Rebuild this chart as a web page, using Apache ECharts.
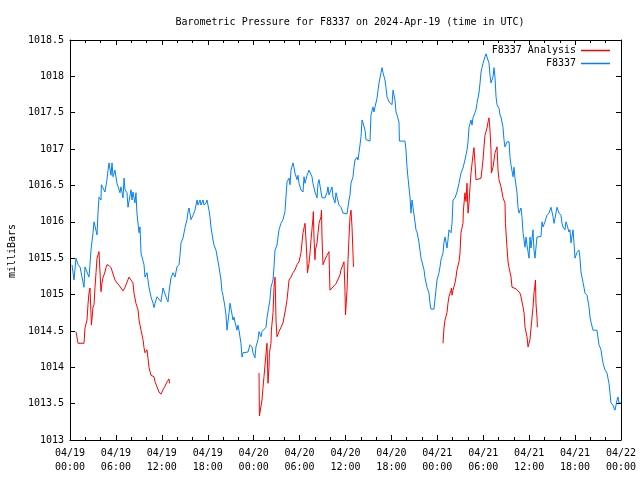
<!DOCTYPE html>
<html>
<head>
<meta charset="utf-8">
<script src="https://cdn.jsdelivr.net/npm/echarts@6/dist/echarts.min.js"></script>
<style>html,body{margin:0;padding:0;background:#fff}#c{width:640px;height:480px}</style>
</head>
<body>
<div id="c"></div>
<script>
// Hours since 2024-04-19 00:00 UTC
const xTickLabels = ['04/19\n00:00','04/19\n06:00','04/19\n12:00','04/19\n18:00','04/20\n00:00','04/20\n06:00','04/20\n12:00','04/20\n18:00','04/21\n00:00','04/21\n06:00','04/21\n12:00','04/21\n18:00','04/22\n00:00'];

const blueTime = [0.26,0.52,0.78,1.05,1.31,1.57,1.83,1.96,2.22,2.48,2.61,2.74,3.01,3.14,3.40,3.53,3.66,3.79,4.05,4.10,4.31,4.57,4.83,4.97,5.10,5.36,5.49,5.62,5.88,6.14,6.40,6.53,6.66,6.93,7.06,7.19,7.45,7.58,7.84,7.97,8.10,8.23,8.49,8.62,8.75,9.02,9.15,9.28,9.67,9.80,10.06,10.19,10.32,10.58,10.85,10.98,11.11,11.37,11.63,11.89,12.15,12.41,12.68,12.81,12.94,13.20,13.46,13.72,13.98,14.24,14.37,14.51,14.77,15.03,15.29,15.42,15.55,15.81,16.07,16.20,16.33,16.60,16.73,16.99,17.12,17.38,17.51,17.77,17.90,18.16,18.29,18.42,18.69,18.82,19.08,19.34,19.47,19.73,19.86,19.99,20.25,20.38,20.52,20.78,20.91,21.04,21.30,21.43,21.56,21.82,21.95,22.08,22.34,22.48,22.61,22.87,23.26,23.52,23.78,23.91,24.17,24.30,24.57,24.70,24.96,25.09,25.22,25.61,25.74,26.00,26.13,26.26,26.53,26.66,26.79,27.05,27.18,27.31,27.57,27.70,27.83,28.09,28.22,28.36,28.62,28.75,28.88,29.14,29.27,29.40,29.66,29.79,29.92,30.18,30.45,30.58,30.71,30.97,31.23,31.49,31.62,31.75,32.01,32.28,32.41,32.54,32.80,32.93,33.32,33.58,33.71,33.84,34.10,34.24,34.37,34.63,34.76,34.89,35.15,35.41,35.67,36.20,36.46,36.59,36.72,36.98,37.11,37.24,37.50,37.63,37.76,38.03,38.16,38.29,38.55,38.68,39.20,39.33,39.59,39.72,39.86,40.12,40.25,40.38,40.64,40.77,40.90,41.16,41.29,41.42,41.68,42.08,42.21,42.47,42.60,42.73,42.99,43.05,43.77,43.90,44.04,44.17,44.30,44.43,44.56,44.69,44.82,45.08,45.21,45.34,45.60,45.73,45.87,46.13,46.26,46.39,46.65,46.78,46.91,47.04,47.17,47.56,47.69,47.82,47.96,48.22,48.35,48.48,48.74,48.87,49.00,49.26,49.39,49.52,49.79,49.92,50.05,50.31,50.57,50.83,51.09,51.35,51.61,51.88,52.01,52.14,52.40,52.53,52.66,52.92,53.05,53.18,53.44,53.58,53.71,53.84,53.97,54.23,54.36,54.49,54.75,54.88,55.01,55.27,55.41,55.54,55.67,55.80,56.06,56.19,56.32,56.58,56.71,56.84,57.10,57.37,57.50,57.63,57.89,58.02,58.15,58.41,58.54,58.67,58.93,59.06,59.20,59.46,59.59,59.72,59.98,60.11,60.24,60.50,60.63,60.76,61.02,61.55,61.68,61.81,62.07,62.20,62.33,62.59,62.72,62.85,63.12,63.25,63.38,63.64,63.77,63.90,64.16,64.29,64.42,64.68,64.81,64.94,65.20,65.33,65.47,65.73,65.86,65.99,66.25,66.51,66.64,66.77,67.03,67.16,67.29,67.56,67.82,67.95,68.08,68.34,68.86,69.12,69.39,69.52,69.65,69.91,70.17,70.43,70.56,70.69,70.95,71.08,71.22,71.48,71.61,71.74,72.00];
const blueValue = [1015.41,1015.20,1015.50,1015.41,1015.38,1015.24,1015.10,1015.38,1015.38,1015.24,1015.41,1015.61,1015.85,1016.00,1016.00,1015.82,1016.12,1016.34,1016.30,1016.51,1016.51,1016.41,1016.58,1016.71,1016.81,1016.64,1016.81,1016.62,1016.71,1016.53,1016.51,1016.40,1016.48,1016.33,1016.60,1016.44,1016.40,1016.20,1016.20,1016.44,1016.30,1016.41,1016.26,1016.40,1016.12,1015.85,1015.93,1015.57,1015.41,1015.24,1015.30,1015.20,1015.10,1014.97,1014.88,1014.82,1014.88,1014.97,1014.99,1014.90,1015.09,1015.09,1014.93,1014.90,1015.04,1015.23,1015.30,1015.24,1015.38,1015.41,1015.54,1015.71,1015.78,1015.92,1016.03,1016.14,1016.19,1016.03,1016.09,1016.09,1016.16,1016.30,1016.23,1016.30,1016.23,1016.30,1016.23,1016.26,1016.30,1016.16,1016.07,1015.93,1015.75,1015.68,1015.61,1015.59,1015.38,1015.20,1015.04,1014.99,1014.83,1014.72,1014.51,1014.75,1014.88,1014.90,1014.65,1014.69,1014.62,1014.51,1014.58,1014.51,1014.33,1014.14,1014.20,1014.20,1014.21,1014.31,1014.28,1014.20,1014.13,1014.28,1014.38,1014.49,1014.42,1014.49,1014.51,1014.55,1014.68,1014.69,1014.93,1015.10,1015.20,1015.38,1015.61,1015.68,1015.79,1015.89,1015.98,1016.00,1016.03,1016.14,1016.34,1016.55,1016.60,1016.51,1016.71,1016.81,1016.75,1016.67,1016.58,1016.64,1016.53,1016.44,1016.41,1016.62,1016.53,1016.64,1016.71,1016.71,1016.62,1016.53,1016.41,1016.33,1016.53,1016.58,1016.58,1016.33,1016.33,1016.40,1016.48,1016.37,1016.44,1016.48,1016.34,1016.26,1016.40,1016.34,1016.23,1016.20,1016.12,1016.11,1016.30,1016.37,1016.53,1016.62,1016.75,1016.85,1016.89,1016.85,1016.95,1017.17,1017.40,1017.36,1017.26,1017.13,1017.11,1017.47,1017.58,1017.51,1017.58,1017.70,1017.81,1017.91,1018.05,1018.12,1018.05,1017.95,1017.85,1017.72,1017.65,1017.61,1017.81,1017.67,1017.51,1017.47,1017.37,1017.11,1017.11,1016.99,1016.75,1016.60,1016.60,1016.34,1016.12,1016.30,1016.20,1016.00,1015.89,1015.86,1015.72,1015.61,1015.50,1015.48,1015.34,1015.23,1015.10,1015.09,1015.02,1014.88,1014.80,1014.80,1014.93,1015.06,1015.20,1015.30,1015.38,1015.48,1015.57,1015.72,1015.79,1015.64,1015.75,1015.89,1015.85,1015.98,1016.30,1016.33,1016.41,1016.53,1016.67,1016.74,1016.85,1016.99,1017.10,1017.30,1017.40,1017.33,1017.43,1017.50,1017.54,1017.63,1017.77,1017.91,1018.06,1018.12,1018.18,1018.27,1018.31,1018.29,1018.18,1018.02,1017.91,1017.99,1018.12,1017.98,1017.72,1017.61,1017.56,1017.47,1017.44,1017.30,1017.13,1017.03,1017.10,1017.10,1016.88,1016.78,1016.62,1016.75,1016.60,1016.40,1016.20,1016.12,1016.19,1016.07,1015.85,1015.65,1015.79,1015.68,1015.50,1015.79,1015.64,1015.89,1015.61,1015.50,1015.79,1015.80,1016.00,1015.93,1016.00,1016.05,1016.09,1016.12,1016.16,1016.20,1016.07,1015.98,1016.05,1016.20,1016.16,1016.12,1016.09,1015.98,1015.93,1015.89,1016.00,1015.96,1015.86,1015.89,1015.71,1015.89,1015.71,1015.50,1015.58,1015.61,1015.50,1015.31,1015.17,1015.10,1015.02,1014.99,1014.83,1014.69,1014.62,1014.51,1014.51,1014.31,1014.24,1014.14,1014.06,1013.96,1013.92,1013.78,1013.65,1013.51,1013.48,1013.44,1013.41,1013.55,1013.59,1013.51,1013.51];

// null marks a gap between analysis runs
const redTime = [0.78,1.05,1.31,1.83,1.96,2.22,2.35,2.48,2.61,2.74,2.80,3.01,3.14,3.27,3.40,3.53,3.79,3.92,4.05,4.18,4.31,4.57,4.70,4.83,5.10,5.36,5.62,5.88,6.14,6.40,6.66,6.93,7.19,7.45,7.71,7.97,8.23,8.36,8.62,8.89,9.02,9.28,9.54,9.67,9.80,10.06,10.19,10.32,10.58,10.98,11.11,11.37,11.63,11.89,12.15,12.41,12.68,12.94,13.00,
  18.5,
  24.70,24.75,24.96,25.09,25.22,25.35,25.48,25.74,25.80,25.87,26.00,26.06,26.26,26.32,26.53,26.66,26.79,26.85,26.92,27.05,27.31,27.57,27.83,28.09,28.15,28.36,28.49,28.62,28.88,29.14,29.40,29.66,29.92,30.18,30.32,30.45,30.71,30.84,30.97,31.03,31.23,31.36,31.49,31.75,31.80,31.88,32.01,32.07,32.28,32.41,32.54,32.80,32.86,32.93,33.06,33.32,33.58,33.84,33.90,33.97,34.24,34.50,34.76,35.02,35.28,35.41,35.67,35.80,35.93,36.00,36.20,36.33,36.46,36.59,36.72,36.85,36.98,37.04,
  42.5,
  48.74,48.87,49.00,49.26,49.39,49.52,49.79,49.85,49.92,50.05,50.31,50.44,50.57,50.83,50.96,51.09,51.35,51.41,51.61,51.74,51.88,52.01,52.14,52.27,52.40,52.66,52.79,52.92,53.05,53.44,53.71,53.84,53.97,54.10,54.23,54.49,54.62,54.75,54.88,55.01,55.07,55.27,55.41,55.54,55.80,55.86,55.93,56.06,56.32,56.45,56.58,56.84,56.90,57.10,57.24,57.37,57.63,57.76,58.02,58.28,58.54,58.80,58.93,59.20,59.33,59.46,59.72,59.85,59.98,60.11,60.24,60.50,60.63,60.76,60.82,60.89,61.02,61.08];
const redValue = [1014.49,1014.33,1014.32,1014.33,1014.54,1014.65,1014.86,1015.02,1015.09,1014.75,1014.58,1014.83,1014.86,1015.10,1015.30,1015.50,1015.59,1015.31,1015.04,1015.16,1015.23,1015.31,1015.37,1015.41,1015.40,1015.37,1015.35,1015.20,1015.16,1015.13,1015.09,1015.05,1015.10,1015.17,1015.24,1015.24,1015.16,1015.02,1014.88,1014.79,1014.65,1014.51,1014.38,1014.27,1014.20,1014.24,1014.13,1014.00,1013.89,1013.87,1013.80,1013.73,1013.66,1013.63,1013.69,1013.74,1013.80,1013.84,1013.78,
  null,
  1013.92,1013.33,1013.34,1013.55,1013.72,1013.87,1014.03,1014.33,1014.10,1013.78,1014.00,1014.20,1014.33,1014.51,1014.75,1015.10,1015.24,1015.02,1014.65,1014.42,1014.49,1014.55,1014.61,1014.61,1014.79,1014.93,1015.06,1015.20,1015.24,1015.30,1015.34,1015.41,1015.45,1015.57,1015.72,1015.85,1015.98,1015.75,1015.48,1015.30,1015.43,1015.57,1015.75,1016.05,1016.14,1015.79,1015.48,1015.61,1015.71,1015.85,1015.98,1016.07,1016.16,1015.79,1015.41,1015.48,1015.54,1015.59,1015.34,1015.06,1015.09,1015.12,1015.15,1015.17,1015.27,1015.34,1015.41,1015.45,1015.06,1014.72,1015.06,1015.48,1015.79,1016.07,1016.16,1015.93,1015.57,1015.38,
  null,
  1014.33,1014.54,1014.65,1014.75,1014.88,1014.97,1015.06,1015.09,1014.99,1015.06,1015.16,1015.24,1015.34,1015.45,1015.57,1015.85,1015.98,1016.16,1016.40,1016.28,1016.53,1016.12,1016.26,1016.48,1016.67,1016.92,1017.02,1016.81,1016.58,1016.59,1016.60,1016.60,1016.85,1017.03,1017.19,1017.29,1017.37,1017.43,1017.26,1016.99,1016.67,1016.75,1016.85,1016.95,1017.03,1016.89,1016.71,1016.58,1016.48,1016.41,1016.33,1016.26,1015.98,1015.65,1015.45,1015.37,1015.24,1015.10,1015.10,1015.08,1015.05,1015.02,1014.97,1014.83,1014.75,1014.55,1014.42,1014.28,1014.28,1014.38,1014.54,1014.82,1015.02,1015.13,1015.20,1014.88,1014.69,1014.55];

const FONT = 'DejaVu Sans Mono';
const blueData = blueTime.map((t, i) => [t, blueValue[i]]);
const redData = redTime.map((t, i) => [t, redValue[i] === null ? '-' : redValue[i]]);

const chart = echarts.init(document.getElementById('c'), null, {renderer: 'canvas'});
const axisCommon = {
  axisLine: {show: true, onZero: false, lineStyle: {color: '#000', width: 1}},
  splitLine: {show: false}
};
chart.setOption({
  animation: false,
  backgroundColor: '#fff',
  title: {
    text: 'Barometric Pressure for F8337 on 2024-Apr-19 (time in UTC)',
    left: 345, top: 12, textAlign: 'center',
    textStyle: {fontFamily: FONT, fontSize: 10, fontWeight: 'normal', color: '#000'}
  },
  legend: {
    orient: 'vertical', right: 30, top: 45, align: 'right', padding: 0,
    icon: 'rect', itemWidth: 29, itemHeight: 1.5, itemGap: 2,
    textStyle: {fontFamily: FONT, fontSize: 10, color: '#000', lineHeight: 11},
    data: ['F8337 Analysis', 'F8337']
  },
  grid: {left: 70, right: 19, top: 40, bottom: 40, containLabel: false},
  xAxis: [
    Object.assign({}, axisCommon, {
      type: 'value', position: 'bottom', min: 0, max: 72, interval: 6,
      axisTick: {show: true, inside: true, length: 5, lineStyle: {color: '#000'}},
      minorTick: {show: true, splitNumber: 3, length: 3, lineStyle: {color: '#000'}},
      axisLabel: {show: true, margin: 6, fontFamily: FONT, fontSize: 10, color: '#000', lineHeight: 14,
        formatter: v => xTickLabels[Math.round(v / 6)]}
    }),
    Object.assign({}, axisCommon, {
      type: 'value', position: 'top', min: 0, max: 72, interval: 6,
      axisTick: {show: true, inside: true, length: 5, lineStyle: {color: '#000'}},
      minorTick: {show: true, splitNumber: 3, length: 3, lineStyle: {color: '#000'}},
      axisLabel: {show: false}
    })
  ],
  yAxis: [
    Object.assign({}, axisCommon, {
      type: 'value', position: 'left', min: 1013, max: 1018.5, interval: 0.5,
      axisTick: {show: true, inside: true, length: 5, lineStyle: {color: '#000'}},
      axisLabel: {show: true, margin: 6, fontFamily: FONT, fontSize: 10, color: '#000',
        formatter: v => String(Math.round(v * 10) / 10)}
    }),
    Object.assign({}, axisCommon, {
      type: 'value', position: 'right', min: 1013, max: 1018.5, interval: 0.5,
      axisTick: {show: true, inside: true, length: 5, lineStyle: {color: '#000'}},
      axisLabel: {show: false}
    })
  ],
  graphic: [{
    type: 'text', x: 12, y: 251, rotation: Math.PI / 2,
    style: {text: 'milliBars', font: '10px "DejaVu Sans Mono"', fill: '#000', align: 'center', verticalAlign: 'middle'}
  }],
  series: [
    {name: 'F8337 Analysis', type: 'line', xAxisIndex: 0, yAxisIndex: 0, data: redData, showSymbol: false, symbol: 'none',
      connectNulls: false, lineStyle: {color: '#ff0000', width: 1}, itemStyle: {color: '#ff0000'}},
    {name: 'F8337', type: 'line', xAxisIndex: 0, yAxisIndex: 0, data: blueData, showSymbol: false, symbol: 'none',
      lineStyle: {color: '#0080ff', width: 1}, itemStyle: {color: '#0080ff'}}
  ]
});
</script>
</body>
</html>
